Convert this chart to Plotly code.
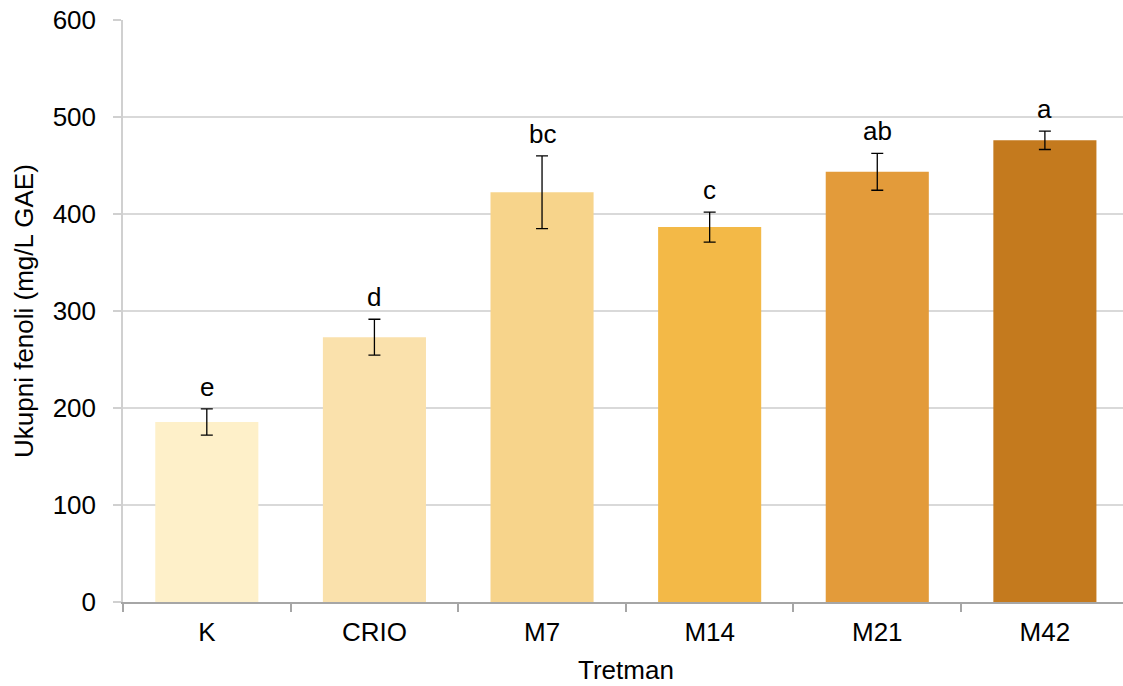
import plotly.graph_objects as go

categories = ["K", "CRIO", "M7", "M14", "M21", "M42"]
means = [185.5, 273, 422.5, 386.5, 443.5, 476]
errors = [13.5, 18.5, 37.5, 15.5, 19, 9.5]
letters = ["e", "d", "bc", "c", "ab", "a"]
colors = ["#FEF0C9", "#FAE1AC", "#F7D48B", "#F3B947", "#E39B3A", "#C47A1E"]
y_ticks = [0, 100, 200, 300, 400, 500, 600]

FONT = "Liberation Sans, Arial, sans-serif"
FS = 26

fig = go.Figure()
fig.add_trace(go.Bar(
    x=categories, y=means,
    marker=dict(color=colors, line=dict(width=0)),
    error_y=dict(type="data", array=errors, visible=True,
                 color="#000000", thickness=1.3, width=6),
    showlegend=False,
))

for c, m, e, t in zip(categories, means, errors, letters):
    fig.add_annotation(x=c, y=m + e, text=t, showarrow=False,
                       xref="x", yref="y", yanchor="bottom", yshift=5,
                       font=dict(family=FONT, size=FS, color="#000000"))

# axis titles
fig.add_annotation(x=2.5, y=0, xref="x", yref="paper", text="Tretman",
                   showarrow=False, yanchor="middle", yshift=-68,
                   font=dict(family=FONT, size=FS, color="#000000"))
fig.add_annotation(x=0, y=0.5, xref="paper", yref="paper",
                   text="Ukupni fenoli (mg/L GAE)", textangle=-90,
                   showarrow=False, xanchor="center", xshift=-99,
                   font=dict(family=FONT, size=FS, color="#000000"))

fig.update_layout(
    width=1123, height=686,
    margin=dict(l=123, r=0, t=20, b=84, pad=0),
    paper_bgcolor="white", plot_bgcolor="white",
    bargap=0.385,
    font=dict(family=FONT, size=FS, color="#000000"),
    xaxis=dict(
        type="category", range=[-0.5, 5.466],
        showline=True, linecolor="#A6A6A6", linewidth=1.5,
        ticks="outside", tickson="boundaries", ticklen=8, tickcolor="#A6A6A6",
        tickwidth=1.5, showgrid=False,
        tickfont=dict(family=FONT, size=FS, color="#000000"),
        ticklabelstandoff=6,
    ),
    yaxis=dict(
        range=[0, 600], tickvals=y_ticks,
        showline=True, linecolor="#D0D0D0", linewidth=1.5,
        ticks="outside", ticklen=8, tickcolor="#D0D0D0", tickwidth=1.5,
        showgrid=True, gridcolor="#D9D9D9", gridwidth=1.5, zeroline=False,
        tickfont=dict(family=FONT, size=FS, color="#000000"),
        ticklabelstandoff=12,
    ),
)

fig.write_html(
    "out.html",
    config={"displayModeBar": False},
    post_script="document.body.style.margin='0';document.body.style.padding='0';document.body.style.overflow='hidden';document.documentElement.style.overflow='hidden';",
)
